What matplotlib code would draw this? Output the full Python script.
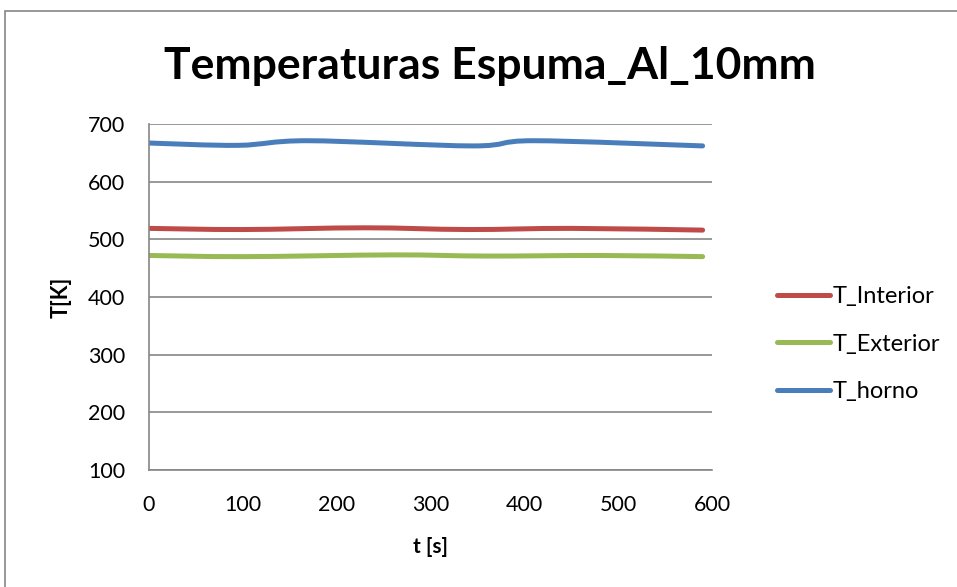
import numpy as np
import matplotlib.pyplot as plt
from matplotlib.path import Path
from matplotlib.patches import PathPatch, Rectangle
from matplotlib.lines import Line2D

# time [s] and temperature [K] readings
t_interior = [0, 100, 230, 340, 450, 590]
T_interior = [519, 517, 520, 517, 519, 516]

t_exterior = [0, 100, 260, 360, 480, 590]
T_exterior = [472, 470, 473, 471, 472, 470]

t_horno = [0, 95, 170, 345, 410, 590]
T_horno = [667, 663, 671, 662, 671, 662]

series_names = ['T_Interior', 'T_Exterior', 'T_horno']
series_colors = ['#BE4B48', '#98B954', '#4A7EBB']

plt.rcParams['font.family'] = ['Lato', 'DejaVu Sans']


def smooth_path(x, y):
    # bezier segments like a spreadsheet "smoothed line"
    pts = np.column_stack([x, y]).astype(float)
    n = len(pts)
    verts = [pts[0]]
    codes = [Path.MOVETO]
    for i in range(n - 1):
        p0 = pts[i - 1] if i > 0 else pts[i]
        p1 = pts[i]
        p2 = pts[i + 1]
        p3 = pts[i + 2] if i + 2 < n else pts[i + 1]
        c1 = p1 + (p2 - p0) / 6.0
        c2 = p2 - (p3 - p1) / 6.0
        verts += [c1, c2, p2]
        codes += [Path.CURVE4] * 3
    return Path(verts, codes)


fig = plt.figure(figsize=(9.57, 5.87), dpi=100)
fig.patches.append(Rectangle((5 / 957, -0.1), 1.1, 1 - 11 / 587 + 0.1,
                             transform=fig.transFigure, fill=False,
                             edgecolor='#868686', linewidth=1.2))

ax = fig.add_axes([149 / 957, 1 - 470 / 587, (712 - 149) / 957, (470 - 124) / 587])

data = [(t_interior, T_interior), (t_exterior, T_exterior), (t_horno, T_horno)]
for (x, y), col in zip(data, series_colors):
    ax.add_patch(PathPatch(smooth_path(x, y), facecolor='none', edgecolor=col,
                           linewidth=3.6, capstyle='round', joinstyle='round'))

ax.set_xlim(0, 600)
ax.set_ylim(100, 700)
ax.set_xticks(range(0, 601, 100))
ax.set_yticks(range(100, 701, 100))
ax.tick_params(length=0, labelsize=15.5)
ax.tick_params(axis='x', pad=18)
ax.tick_params(axis='y', pad=17)
ax.grid(axis='y', color='#868686', linewidth=1.2)
ax.set_axisbelow(True)
for s in ['top', 'right']:
    ax.spines[s].set_visible(False)
for s in ['left', 'bottom']:
    ax.spines[s].set_color('#868686')
    ax.spines[s].set_linewidth(1.2)

ax.set_xlabel('t [s]', fontsize=15, fontweight='bold', labelpad=16)
ax.set_ylabel('T[K]', fontsize=15.5, fontweight='bold', labelpad=12)

fig.text(490 / 957, 1 - 66 / 587, 'Temperaturas Espuma_Al_10mm', ha='center',
         va='center', fontsize=32, fontweight='bold')

handles = [Line2D([], [], color=c, linewidth=3.6, solid_capstyle='round')
           for c in series_colors]
fig.legend(handles, series_names, loc='center left',
           bbox_to_anchor=(756 / 957, 1 - 344 / 587), frameon=False,
           fontsize=17, handlelength=2.25, handletextpad=0.08, labelspacing=1.12)

fig.savefig('out.png', dpi=100)
